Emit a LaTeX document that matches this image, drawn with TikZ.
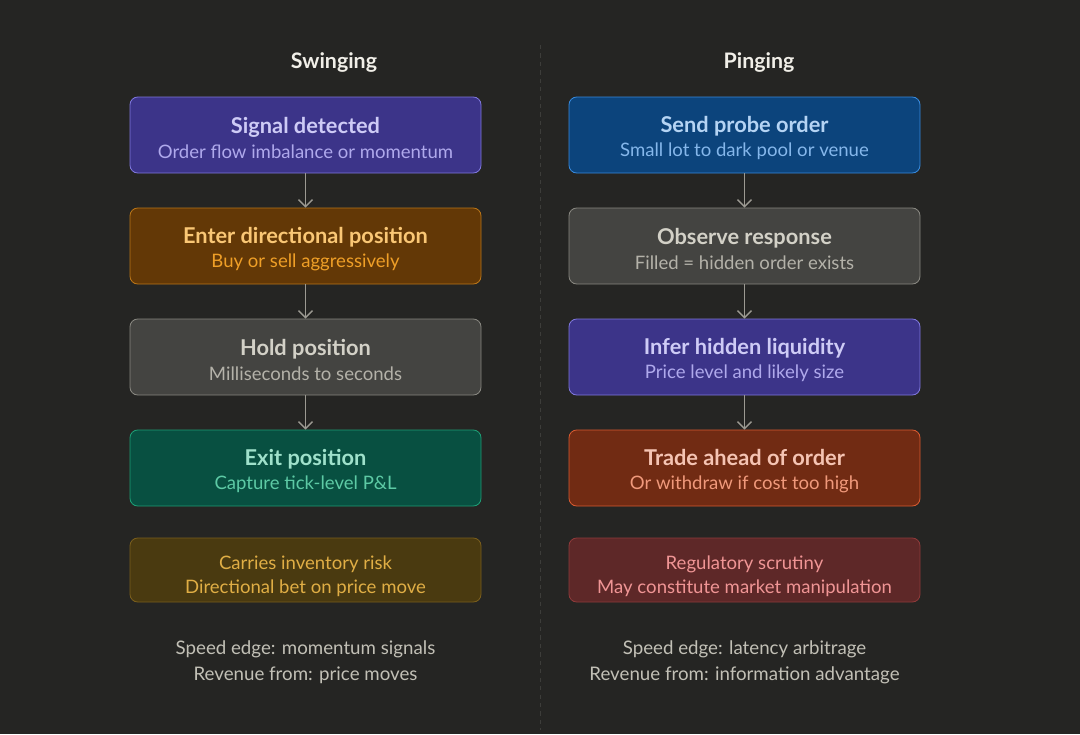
\documentclass[tikz,border=0pt]{standalone}
\usepackage{fontspec}
\setmainfont{Lato}
\usetikzlibrary{positioning,arrows.meta}

\definecolor{bgdark}{HTML}{252523}
\definecolor{divline}{HTML}{3D3D3A}
\definecolor{arrowgray}{HTML}{9C9A92}
\definecolor{heading}{HTML}{F1EFE8}
\definecolor{footgray}{HTML}{C2C0B6}
% box colours: fill, line, title, sub
\definecolor{purFill}{HTML}{3C3489}\definecolor{purLine}{HTML}{7F77DD}
\definecolor{purHead}{HTML}{CECBF6}\definecolor{purSub}{HTML}{AFA9EC}
\definecolor{ambFill}{HTML}{633806}\definecolor{ambLine}{HTML}{BA7517}
\definecolor{ambHead}{HTML}{FAC775}\definecolor{ambSub}{HTML}{EF9F27}
\definecolor{gryFill}{HTML}{444441}\definecolor{gryLine}{HTML}{888780}
\definecolor{gryHead}{HTML}{D3D1C7}\definecolor{grySub}{HTML}{B4B2A9}
\definecolor{tealFill}{HTML}{085041}\definecolor{tealLine}{HTML}{1D9E75}
\definecolor{tealHead}{HTML}{9FE1CB}\definecolor{tealSub}{HTML}{5DCAA5}
\definecolor{bluFill}{HTML}{0C447C}\definecolor{bluLine}{HTML}{378ADD}
\definecolor{bluHead}{HTML}{B5D4F4}\definecolor{bluSub}{HTML}{85B7EB}
\definecolor{corFill}{HTML}{712B13}\definecolor{corLine}{HTML}{D85A30}
\definecolor{corHead}{HTML}{F5C4B3}\definecolor{corSub}{HTML}{F0997B}
\definecolor{riskFill}{HTML}{4A3A10}\definecolor{riskLine}{HTML}{7A5E1C}
\definecolor{riskText}{HTML}{E0AE45}
\definecolor{regFill}{HTML}{5E2828}\definecolor{regLine}{HTML}{8E3A3A}
\definecolor{regText}{HTML}{F09595}

\newcommand{\stepText}[4]{\rule{0pt}{16pt}{\color{#1}\fontsize{15.5}{18.5}\selectfont\bfseries #3}\\[-1pt]{\color{#2}#4}}
\newcommand{\noteText}[2]{\rule{0pt}{19pt}#1\\#2}

\tikzset{
	flowbox/.style={draw, rounded corners=5.5pt, line width=0.6pt, minimum width=8.775cm, minimum height=1.9cm, align=center, inner sep=0pt, font=\fontsize{13.2}{18.5}\selectfont},
	notebox/.style={flowbox, minimum height=1.6cm, font=\fontsize{13.2}{17}\selectfont},
	flowarrow/.style={draw=arrowgray, line width=1pt, -{Straight Barb[length=5pt,width=10pt]}},
	colhead/.style={text=heading, font=\fontsize{15.2}{19}\selectfont\bfseries},
	foot/.style={text=footgray, align=center, font=\fontsize{13.3}{18.5}\selectfont}
}

\begin{document}
\begin{tikzpicture}
	\fill[bgdark] (0,0) rectangle (27,-18.35);
	\useasboundingbox (0,0) rectangle (27,-18.35);

	% divider
	\coordinate (DIVT) at (13.5,-1.125);
	\coordinate (DIVB) at (13.5,-18.25);
	\draw[divline, dashed, line width=0.6pt] (DIVT) -- (DIVB);

	% swinging column
	\node[colhead] (SW) at (8.35,-1.575) {Swinging};
	\node[flowbox, fill=purFill, draw=purLine] (S1) at (7.6375,-3.375)
		{\stepText{purHead}{purSub}{Signal detected}{Order flow imbalance or momentum}};
	\node[flowbox, fill=ambFill, draw=ambLine, below of=S1, node distance=2.775cm] (S2)
		{\stepText{ambHead}{ambSub}{Enter directional position}{Buy or sell aggressively}};
	\node[flowbox, fill=gryFill, draw=gryLine, below of=S2, node distance=2.775cm] (S3)
		{\stepText{gryHead}{grySub}{Hold position}{Milliseconds to seconds}};
	\node[flowbox, fill=tealFill, draw=tealLine, below of=S3, node distance=2.775cm] (S4)
		{\stepText{tealHead}{tealSub}{Exit position}{Capture tick-level P\&L}};
	\node[notebox, fill=riskFill, draw=riskLine, text=riskText, below of=S4, node distance=2.55cm] (SN)
		{\noteText{Carries inventory risk}{Directional bet on price move}};
	\node[foot, below of=SN, node distance=2.3cm] (SF)
		{Speed edge: momentum signals\\Revenue from: price moves};

	\draw[flowarrow] (S1) -- (S2);
	\draw[flowarrow] (S2) -- (S3);
	\draw[flowarrow] (S3) -- (S4);

	% pinging column
	\node[colhead] (PG) at (18.975,-1.575) {Pinging};
	\node[flowbox, fill=bluFill, draw=bluLine] (P1) at (18.6125,-3.375)
		{\stepText{bluHead}{bluSub}{Send probe order}{Small lot to dark pool or venue}};
	\node[flowbox, fill=gryFill, draw=gryLine, below of=P1, node distance=2.775cm] (P2)
		{\stepText{gryHead}{grySub}{Observe response}{Filled = hidden order exists}};
	\node[flowbox, fill=purFill, draw=purLine, below of=P2, node distance=2.775cm] (P3)
		{\stepText{purHead}{purSub}{Infer hidden liquidity}{Price level and likely size}};
	\node[flowbox, fill=corFill, draw=corLine, below of=P3, node distance=2.775cm] (P4)
		{\stepText{corHead}{corSub}{Trade ahead of order}{Or withdraw if cost too high}};
	\node[notebox, fill=regFill, draw=regLine, text=regText, below of=P4, node distance=2.55cm] (PN)
		{\noteText{Regulatory scrutiny}{May constitute market manipulation}};
	\node[foot, below of=PN, node distance=2.3cm] (PF)
		{Speed edge: latency arbitrage\\Revenue from: information advantage};

	\draw[flowarrow] (P1) -- (P2);
	\draw[flowarrow] (P2) -- (P3);
	\draw[flowarrow] (P3) -- (P4);
\end{tikzpicture}
\end{document}
